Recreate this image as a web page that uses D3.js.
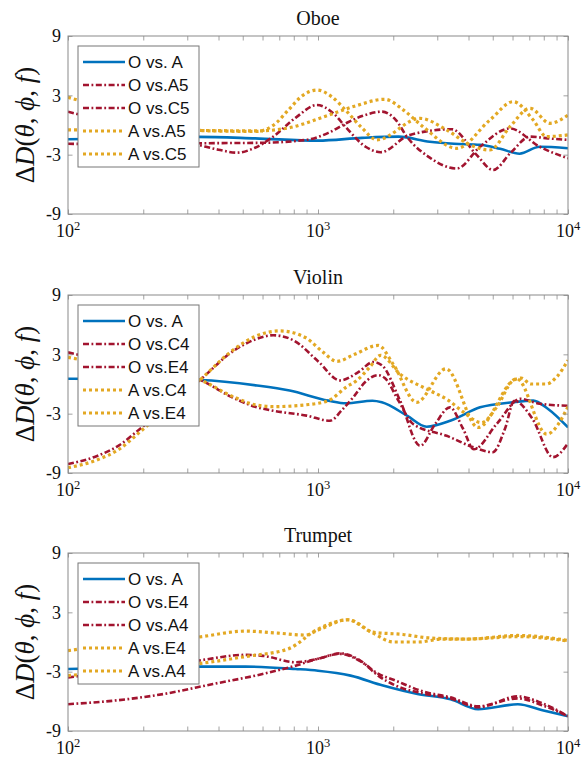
<!DOCTYPE html>
<html>
<head>
<meta charset="utf-8">
<script src="https://cdn.jsdelivr.net/npm/d3@7"></script>
<style>
  body { margin: 0; background: #fff; }
  svg { display: block; }
</style>
</head>
<body>
<svg id="chart" width="581" height="759"></svg>
<script>
'use strict';

// [frequency (Hz), deltaD] pairs

// Oboe
var oboeOA = [[100, -1.44], [180, -1.35], [330, -1.2], [560, -1.35], [1000, -1.58], [1500, -1.3],
    [2100, -1.18], [2800, -1.7], [3500, -1.9], [4450, -2.0], [5350, -2.4], [6400, -2.9],
    [7700, -2.2], [10000, -2.35]];
var oboeOA5 = [[100, 1.34], [160, 0.0], [250, -1.5], [310, -1.85], [400, -2.5], [473, -2.8],
    [560, -2.3], [660, -1.2], [820, 0.8], [990, 2.02], [1150, 1.2], [1300, -0.3], [1550, -2.2],
    [1780, -2.75], [2330, -1.0], [3430, -0.43], [4300, -3.0], [5020, -4.55], [5900, -2.8],
    [7050, -1.18], [8300, -1.35], [10000, -1.5]];
var oboeOC5 = [[100, -1.9], [200, -1.95], [330, -1.85], [600, -1.8], [900, -1.5], [1100, -0.8],
    [1300, 0.2], [1500, 0.9], [1800, 1.35], [2050, 0.5], [2270, -1.2], [2800, -3.3], [3590, -4.4],
    [4450, -2.2], [5860, -0.35], [7700, -2.2], [10000, -3.37]];
var oboeAA5 = [[100, 2.8], [150, 1.5], [220, 0.2], [330, -0.55], [570, -0.65], [680, 0.2],
    [760, 1.5], [870, 3.0], [990, 3.54], [1130, 2.9], [1300, 1.4], [1500, -0.3], [1720, -1.5],
    [2560, 0.67], [3270, -0.5], [4050, -2.0], [4870, -2.53], [5860, -0.17], [7050, 1.69],
    [8470, 0.17], [10000, 1.0]];
var oboeAC5 = [[100, -0.5], [200, -0.5], [330, -0.55], [570, -0.6], [760, -0.3], [1050, 0.8],
    [1400, 1.9], [1850, 2.6], [2200, 1.5], [2640, -0.2], [3590, -2.36], [4870, 0.5], [6040, 2.36],
    [7260, 0.5], [8200, -1.18], [10000, -1.0]];
var oboeLabels = ['O vs. A', 'O vs.A5', 'O vs.C5', 'A vs.A5', 'A vs.C5'];

// Violin
var violinOA = [[100, 0.53], [200, 0.5], [337, 0.4], [570, -0.15], [770, -0.66], [1100, -1.68],
    [1300, -1.95], [1650, -1.7], [1800, -1.85], [2270, -3.2], [2720, -4.32], [3400, -3.7],
    [4450, -2.36], [6000, -1.85], [7260, -1.68], [8300, -2.5], [10000, -4.39]];
var violinOC4 = [[100, -8.1], [130, -7.3], [160, -6.2], [195, -4.5], [240, -2.6], [290, -0.9],
    [337, 0.4], [450, 3.2], [560, 4.5], [662, 4.93], [800, 4.4], [1000, 2.3], [1225, 0.36],
    [1450, 1.2], [1663, 2.22], [1800, 1.9], [2130, -1.68], [2560, -6.25], [2950, -4.0],
    [3370, -2.36], [3800, -4.5], [4200, -6.6], [5200, -4.0], [6450, -1.5], [7700, -2.0],
    [10000, -2.2]];
var violinOE4 = [[100, 3.2], [200, 1.5], [337, 0.4], [450, -1.3], [560, -2.3], [662, -2.7],
    [900, -3.2], [1117, -3.71], [1250, -2.6], [1384, -1.34], [1560, 0.3], [1740, 0.9],
    [1850, 0.6], [2100, -1.7], [2400, -4.05], [3270, -5.24], [4300, -6.5], [5000, -6.9],
    [5600, -4.5], [6100, -1.7], [7200, -3.5], [8700, -7.4], [10000, -6.0]];
var violinAC4 = [[100, -8.46], [130, -7.7], [160, -6.6], [195, -4.8], [240, -2.8], [290, -1.0],
    [337, 0.4], [450, 3.3], [560, 4.8], [705, 5.37], [890, 4.7], [1050, 3.2], [1190, 2.29],
    [1400, 3.0], [1740, 3.9], [2000, 2.0], [2480, -1.85], [3250, 1.54], [4370, -4.39],
    [6240, 0.52], [8220, -5.07], [10000, -2.3]];
var violinAE4 = [[100, 2.7], [200, 1.3], [337, 0.4], [450, -1.2], [560, -2.1], [662, -2.29],
    [900, -2.1], [1100, -1.68], [1300, -0.3], [1430, 0.36], [1610, 1.7], [1780, 2.9],
    [2130, 1.0], [2800, -0.66], [3300, -1.6], [3800, -2.8], [4500, -3.9], [5200, -2.3],
    [6000, 0.3], [6500, 0.6], [7100, 0.0], [8200, 0.0], [9000, 0.7], [10000, 2.4]];
var violinLabels = ['O vs. A', 'O vs.C4', 'O vs.E4', 'A vs.C4', 'A vs.E4'];

// Trumpet
var trumpetOA = [[100, -2.73], [178, -2.55], [331, -2.49], [513, -2.49], [813, -2.73],
    [1000, -2.9], [1350, -3.4], [1820, -4.4], [2500, -5.25], [3390, -5.8], [4370, -6.8],
    [6300, -6.3], [7900, -6.9], [10000, -7.5]];
var trumpetOE4 = [[100, -3.58], [178, -2.8], [331, -1.88], [513, -1.3], [603, -1.4], [813, -2.05],
    [1000, -1.7], [1230, -1.15], [1480, -1.9], [1740, -3.4], [2040, -4.4], [2630, -5.2],
    [3390, -5.7], [4370, -6.6], [6300, -5.5], [7900, -6.2], [10000, -7.5]];
var trumpetOA4 = [[100, -6.29], [150, -5.95], [240, -5.27], [380, -4.25], [600, -3.24],
    [813, -2.39], [1000, -1.7], [1230, -1.2], [1480, -1.95], [1740, -3.2], [2040, -3.9],
    [2630, -5.0], [3390, -5.6], [4370, -6.5], [6300, -5.7], [7900, -6.4], [10000, -7.5]];
var trumpetAE4 = [[100, -0.87], [178, -0.1], [331, 0.49], [513, 1.1], [692, 0.9], [891, 0.7],
    [1000, 1.2], [1318, 2.25], [1660, 1.0], [2190, 0.76], [2820, 0.4], [3980, 0.3],
    [6300, 0.66], [10000, 0.15]];
var trumpetAA4 = [[100, -3.4], [178, -2.8], [331, -2.2], [513, -1.47], [759, -0.7], [1000, 1.3],
    [1318, 2.25], [1660, 0.9], [2000, 0.0], [2510, 0.0], [3160, 0.3], [3980, 0.3],
    [6300, 0.55], [10000, 0.1]];
var trumpetLabels = ['O vs. A', 'O vs.E4', 'O vs.A4', 'A vs.E4', 'A vs.A4'];

var xDomain = [100, 10000];
var yDomain = [-9, 9];
var yTicks = [-9, -3, 3, 9];
var xLabelTicks = [100, 1000, 10000];

var panels = [
    {title: 'Oboe', top: 36, series: [oboeOA, oboeOA5, oboeOC5, oboeAA5, oboeAC5], labels: oboeLabels},
    {title: 'Violin', top: 295, series: [violinOA, violinOC4, violinOE4, violinAC4, violinAE4], labels: violinLabels},
    {title: 'Trumpet', top: 553, series: [trumpetOA, trumpetOE4, trumpetOA4, trumpetAE4, trumpetAA4], labels: trumpetLabels}
];

// line styles, same order in every panel (MATLAB default colours)
var styles = [
    {color: '#0072BD', width: 2.6, dash: null},
    {color: '#A2142F', width: 2.6, dash: '6,2.5,1.8,2.5'},
    {color: '#A2142F', width: 2.6, dash: '6,2.5,1.8,2.5'},
    {color: '#E3A823', width: 3.2, dash: '3,3'},
    {color: '#E3A823', width: 3.2, dash: '3,3'}
];

var LEFT = 68;
var RIGHT = 568;
var PANEL_H = 178;
var SERIF = '"Liberation Serif", "Times New Roman", serif';
var SANS = '"Liberation Sans", Arial, sans-serif';
var AXIS_COLOR = '#8a8a8a';

var svg = d3.select('#chart');

var x = d3.scaleLog().domain(xDomain).range([LEFT, RIGHT]);

panels.forEach(function(p, pi) {
    var y = d3.scaleLinear().domain(yDomain).range([p.top + PANEL_H, p.top]);
    var g = svg.append('g').attr('class', 'panel');
    var clipId = 'clip' + pi;

    g.append('clipPath').attr('id', clipId)
        .append('rect')
        .attr('x', LEFT).attr('y', p.top)
        .attr('width', RIGHT - LEFT).attr('height', PANEL_H);

    // title
    g.append('text')
        .attr('x', (LEFT + RIGHT) / 2)
        .attr('y', p.top - 11)
        .attr('text-anchor', 'middle')
        .style('font-family', SERIF)
        .style('font-size', '20px')
        .style('fill', '#111')
        .text(p.title);

    // curves
    var line = d3.line()
        .x(function(d) { return x(d[0]); })
        .y(function(d) { return y(d[1]); })
        .curve(d3.curveMonotoneX);

    var lines = g.append('g').attr('clip-path', 'url(#' + clipId + ')');
    p.series.forEach(function(s, i) {
        var st = styles[i];
        lines.append('path')
            .datum(s)
            .attr('d', line)
            .attr('fill', 'none')
            .attr('stroke', st.color)
            .attr('stroke-width', st.width)
            .attr('stroke-dasharray', st.dash);
    });

    // ticks pointing inward on all four sides
    var axes = g.append('g').attr('class', 'axes');
    axes.append('g')
        .attr('transform', 'translate(0,' + (p.top + PANEL_H) + ')')
        .call(d3.axisBottom(x).tickSizeInner(-4.5).tickSizeOuter(0).tickFormat(''));
    axes.append('g')
        .attr('transform', 'translate(0,' + p.top + ')')
        .call(d3.axisTop(x).tickSizeInner(-4.5).tickSizeOuter(0).tickFormat(''));
    axes.append('g')
        .attr('transform', 'translate(' + LEFT + ',0)')
        .call(d3.axisLeft(y).tickValues(yTicks).tickSizeInner(-4.5).tickSizeOuter(0)
            .tickPadding(7).tickFormat(function(d) { return String(d); }));
    axes.append('g')
        .attr('transform', 'translate(' + RIGHT + ',0)')
        .call(d3.axisRight(y).tickValues(yTicks).tickSizeInner(-4.5).tickSizeOuter(0).tickFormat(''));

    axes.selectAll('.domain').remove();
    axes.selectAll('line').attr('stroke', AXIS_COLOR).attr('stroke-width', 0.8);
    axes.selectAll('text')
        .style('font-family', SERIF)
        .style('font-size', '18px')
        .style('fill', '#111');

    // box
    g.append('rect')
        .attr('x', LEFT).attr('y', p.top)
        .attr('width', RIGHT - LEFT).attr('height', PANEL_H)
        .attr('fill', 'none')
        .attr('stroke', AXIS_COLOR)
        .attr('stroke-width', 1);

    // 10^n labels
    var xl = g.selectAll('text.xlabel')
        .data(xLabelTicks)
        .enter().append('text')
        .attr('class', 'xlabel')
        .attr('x', function(d) { return x(d); })
        .attr('y', p.top + PANEL_H + 23)
        .attr('text-anchor', 'middle')
        .style('font-family', SERIF)
        .style('font-size', '18px')
        .style('fill', '#111');
    xl.append('tspan').text('10');
    xl.append('tspan')
        .attr('dy', -7)
        .style('font-size', '12.5px')
        .text(function(d) { return Math.round(Math.log10(d)); });

    // y label: ΔD(θ, ϕ, f)
    var yl = g.append('text')
        .attr('transform', 'translate(34,' + (p.top + PANEL_H / 2) + ') rotate(-90)')
        .attr('text-anchor', 'middle')
        .style('font-family', SERIF)
        .style('font-size', '27px')
        .style('fill', '#111');
    var parts = [['\u0394', false], ['D', true], ['(', false], ['\u03b8', true], [', ', false],
        ['\u03d5', true], [', ', false], ['f', true], [')', false]];
    parts.forEach(function(pt) {
        yl.append('tspan')
            .style('font-style', pt[1] ? 'italic' : 'normal')
            .text(pt[0]);
    });

    // legend
    var lg = g.append('g').attr('transform', 'translate(78,' + (p.top + 10) + ')');
    lg.append('rect')
        .attr('width', 121).attr('height', 121)
        .attr('fill', '#fff')
        .attr('stroke', '#777')
        .attr('stroke-width', 1);
    p.labels.forEach(function(lab, i) {
        var st = styles[i];
        var ry = 16 + i * 23;
        lg.append('line')
            .attr('x1', 5).attr('x2', 47)
            .attr('y1', ry).attr('y2', ry)
            .attr('stroke', st.color)
            .attr('stroke-width', st.width)
            .attr('stroke-dasharray', st.dash);
        lg.append('text')
            .attr('x', 50).attr('y', ry)
            .attr('dy', '0.36em')
            .style('font-family', SANS)
            .style('font-size', '17px')
            .style('fill', '#111')
            .text(lab);
    });
});
</script>
</body>
</html>
